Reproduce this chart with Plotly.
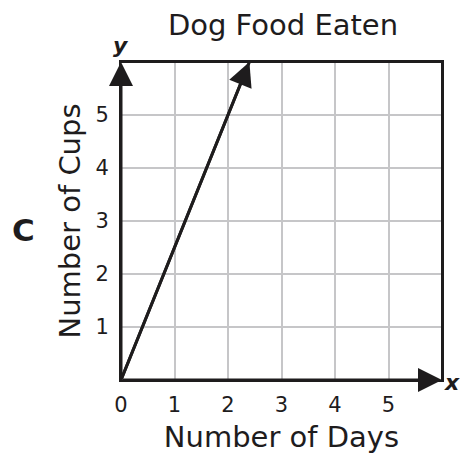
import plotly.graph_objects as go

days = [0, 2.4]
cups = [0, 6]
x_ticks = [0, 1, 2, 3, 4, 5]
y_ticks = [1, 2, 3, 4, 5]
x_range = [0, 6]
y_range = [0, 6]

FONT = "DejaVu Sans"
INK = "#1e1c1d"
L, R, T, B = 121, 18, 62, 75
PW, PH = 460 - L - R, 455 - T - B

fig = go.Figure()
fig.add_trace(go.Scatter(x=days, y=cups, mode="lines",
                         line=dict(color=INK, width=3), hoverinfo="skip"))

arrow = dict(xref="x", yref="y", axref="x", ayref="y", text="", showarrow=True,
             arrowhead=2, arrowsize=1.6, arrowwidth=3, arrowcolor=INK, standoff=0)
fig.add_annotation(x=days[1], y=cups[1], ax=days[0], ay=cups[0], **arrow)
fig.add_annotation(x=x_range[1], y=0, ax=x_range[0], ay=0, **arrow)
fig.add_annotation(x=0, y=y_range[1], ax=0, ay=y_range[0], **arrow)

fig.add_annotation(x=x_range[1], y=0, xref="x", yref="y", text="<b><i>x</i></b>",
                   showarrow=False, xanchor="left", xshift=0, yshift=-2,
                   font=dict(family=FONT, size=22, color=INK))
fig.add_annotation(x=0, y=y_range[1], xref="x", yref="y", text="<b><i>y</i></b>",
                   showarrow=False, yanchor="bottom", yshift=2,
                   font=dict(family=FONT, size=22, color=INK))
fig.add_annotation(x=(23 - L) / PW, y=(455 - B - 230) / PH, xref="paper", yref="paper",
                   text="<b>C</b>", showarrow=False, xanchor="center", yanchor="middle",
                   font=dict(family=FONT, size=31, color=INK))

fig.update_layout(
    width=460, height=455,
    margin=dict(l=L, r=R, t=T, b=B, autoexpand=False),
    paper_bgcolor="white", plot_bgcolor="white",
    showlegend=False,
    title=dict(text="Dog Food Eaten", x=(283 - L) / PW, xref="paper", xanchor="center",
               y=1 - 25 / 455, yanchor="middle",
               font=dict(family=FONT, size=29, color=INK)),
    font=dict(family=FONT, size=21, color=INK),
)
axis_common = dict(showgrid=True, gridcolor="#c6c6c8", gridwidth=2, showline=True,
                   linecolor=INK, linewidth=2, mirror=True, zeroline=False, ticks="",
                   fixedrange=True, automargin=False)
fig.update_xaxes(range=x_range, tickvals=x_ticks, ticklabelstandoff=5,
                 title=dict(text="Number of Days", font=dict(size=29), standoff=10),
                 **axis_common)
fig.update_yaxes(range=y_range, tickvals=y_ticks, ticklabelstandoff=6,
                 title=dict(text="Number of Cups", font=dict(size=29), standoff=6),
                 **axis_common)
fig.add_vline(x=x_range[1], line=dict(color=INK, width=2))
fig.add_hline(y=y_range[1], line=dict(color=INK, width=2))

fig.write_html("out.html", config={"displayModeBar": False},
               post_script="document.body.style.margin='0';document.body.style.overflow='hidden';")
